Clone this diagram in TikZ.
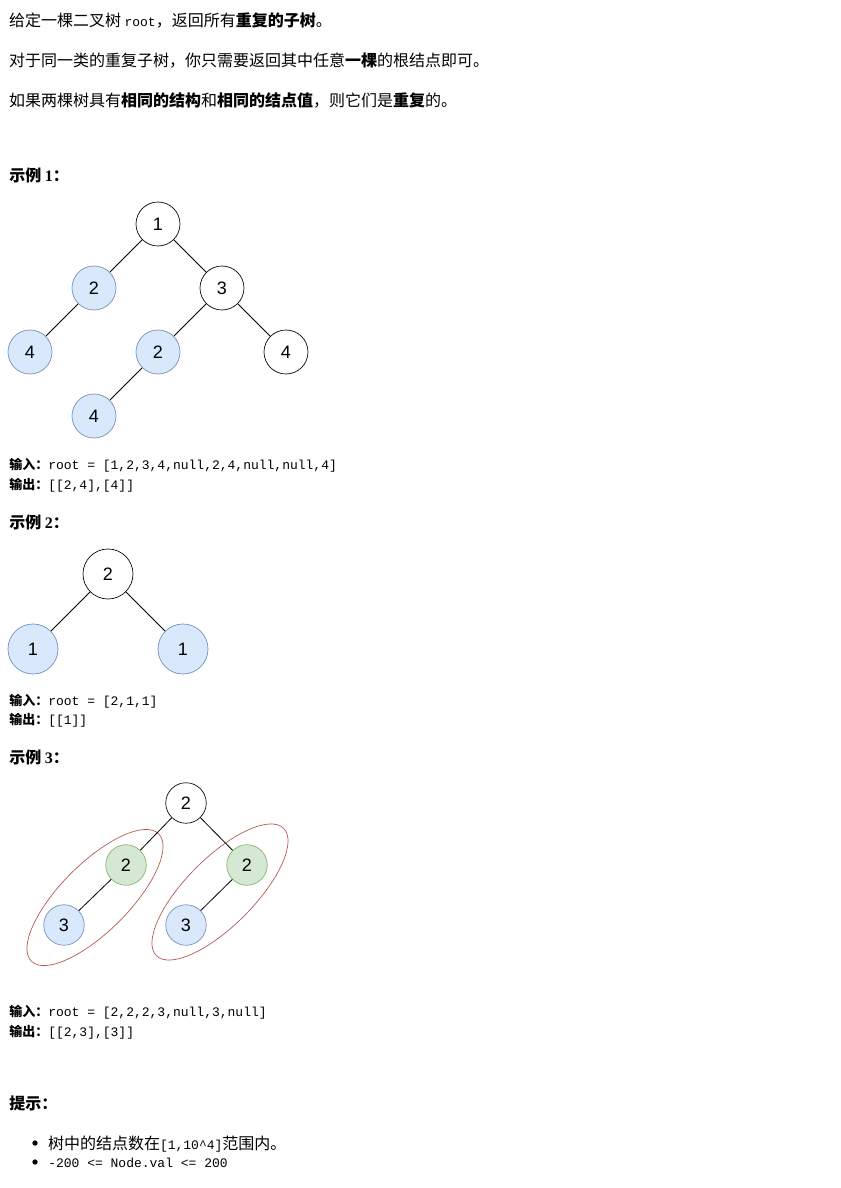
\documentclass[tikz,border=0pt]{standalone}
\usepackage{fontspec}
\setmainfont{Liberation Sans}
\setmonofont{Liberation Mono}
\newfontfamily\cjk{Noto Sans CJK SC}
\newfontfamily\serifdigit{Liberation Serif}
\definecolor{blueF}{HTML}{DAE8FC}
\definecolor{blueS}{HTML}{6C8EBF}
\definecolor{greenF}{HTML}{D5E8D4}
\definecolor{greenS}{HTML}{82B366}
\definecolor{redS}{HTML}{B85450}
\tikzset{
  txt/.style={anchor=base west, inner sep=0pt, outer sep=0pt, font=\cjk\fontsize{12pt}{14pt}\selectfont},
  head/.style={anchor=base west, inner sep=0pt, font=\cjk\bfseries\fontsize{12pt}{14pt}\selectfont},
  io/.style={anchor=base west, inner sep=0pt, font=\cjk\fontsize{9.75pt}{12pt}\selectfont},
  tnode/.style={circle, draw=black, fill=white, line width=0.5pt, inner sep=0pt, font=\fontsize{13.5pt}{15pt}\selectfont},
  bnode/.style={tnode, draw=blueS, fill=blueF},
  gnode/.style={tnode, draw=greenS, fill=greenF},
  edge/.style={draw=black, line width=0.6pt},
  ring/.style={draw=redS, line width=0.5pt},
  bul/.style={circle, fill=black, inner sep=0pt, minimum size=4pt}
}
\newcommand{\tts}[1]{{\ttfamily\fontsize{9.75pt}{12pt}\selectfont #1}}
\begin{document}
\begin{tikzpicture}[x=0.75pt,y=-0.75pt]
\useasboundingbox (0,0) rectangle (840,1188);
\fill[white] (0,0) rectangle (840,1188);

% intro text
\node[txt] (l1) at (9,27) {给定一棵二叉树 \tts{root}，返回所有\textbf{重复的子树}。};
\node[txt] (l2) at (9,67) {对于同一类的重复子树，你只需要返回其中任意\textbf{一棵}的根结点即可。};
\node[txt] (l3) at (9,107) {如果两棵树具有\textbf{相同的结构}和\textbf{相同的结点值}，则它们是\textbf{重复}的。};

% Example 1
\node[head] (h1) at (9,181) {示例 {\serifdigit\bfseries 1}：};
\begin{scope}[every node/.append style={minimum size=44*0.75pt}]
\node[tnode] (a1) at (158,224) {1};
\node[bnode] (a2) at (94,288) {2};
\node[tnode] (a3) at (222,288) {3};
\node[bnode] (a4) at (30,352) {4};
\node[bnode] (a5) at (158,352) {2};
\node[tnode] (a6) at (286,352) {4};
\node[bnode] (a7) at (94,416) {4};
\end{scope}
\draw[edge] (a1) -- (a2);
\draw[edge] (a1) -- (a3);
\draw[edge] (a2) -- (a4);
\draw[edge] (a3) -- (a5);
\draw[edge] (a3) -- (a6);
\draw[edge] (a5) -- (a7);
\node[io] (i1) at (9,469) {\textbf{输入：}\tts{root = [1,2,3,4,null,2,4,null,null,4]}};
\node[io] (o1) at (9,489) {\textbf{输出：}\tts{[[2,4],[4]]}};

% Example 2
\node[head] (h2) at (9,528) {示例 {\serifdigit\bfseries 2}：};
\begin{scope}[every node/.append style={minimum size=50*0.75pt, font=\fontsize{16.5pt}{18pt}\selectfont}]
\node[tnode] (b1) at (108,574) {2};
\node[bnode] (b2) at (33,649) {1};
\node[bnode] (b3) at (183,649) {1};
\end{scope}
\draw[edge] (b1) -- (b2);
\draw[edge] (b1) -- (b3);
\node[io] (i2) at (9,705) {\textbf{输入：}\tts{root = [2,1,1]}};
\node[io] (o2) at (9,724) {\textbf{输出：}\tts{[[1]]}};

% Example 3
\node[head] (h3) at (9,763) {示例 {\serifdigit\bfseries 3}：};
\draw[ring] (95,897.5) ellipse[x radius=90, y radius=34, rotate=45];
\draw[ring] (220,892) ellipse[x radius=90, y radius=34, rotate=45];
\begin{scope}[every node/.append style={minimum size=40.5*0.75pt}]
\node[tnode] (c1) at (186,803) {2};
\node[gnode] (c2) at (126,865) {2};
\node[bnode] (c3) at (64,925) {3};
\node[gnode] (c4) at (247,865) {2};
\node[bnode] (c5) at (186,925) {3};
\end{scope}
\draw[edge] (c1) -- (c2);
\draw[edge] (c1) -- (c4);
\draw[edge] (c2) -- (c3);
\draw[edge] (c4) -- (c5);
\node[io] (i3) at (9,1016) {\textbf{输入：}\tts{root = [2,2,2,3,null,3,null]}};
\node[io] (o3) at (9,1036) {\textbf{输出：}\tts{[[2,3],[3]]}};

% Hints
\node[head] (h4) at (9,1109) {提示：};
\node[bul] (d1) at (35,1143) {};
\node[txt] (t1) at (48,1149) {树中的结点数在\tts{[1,10\^{}4]}范围内。};
\node[bul] (d2) at (35,1162) {};
\node[io] (t2) at (48,1167) {\tts{-200 <= Node.val <= 200}};
\end{tikzpicture}
\end{document}
